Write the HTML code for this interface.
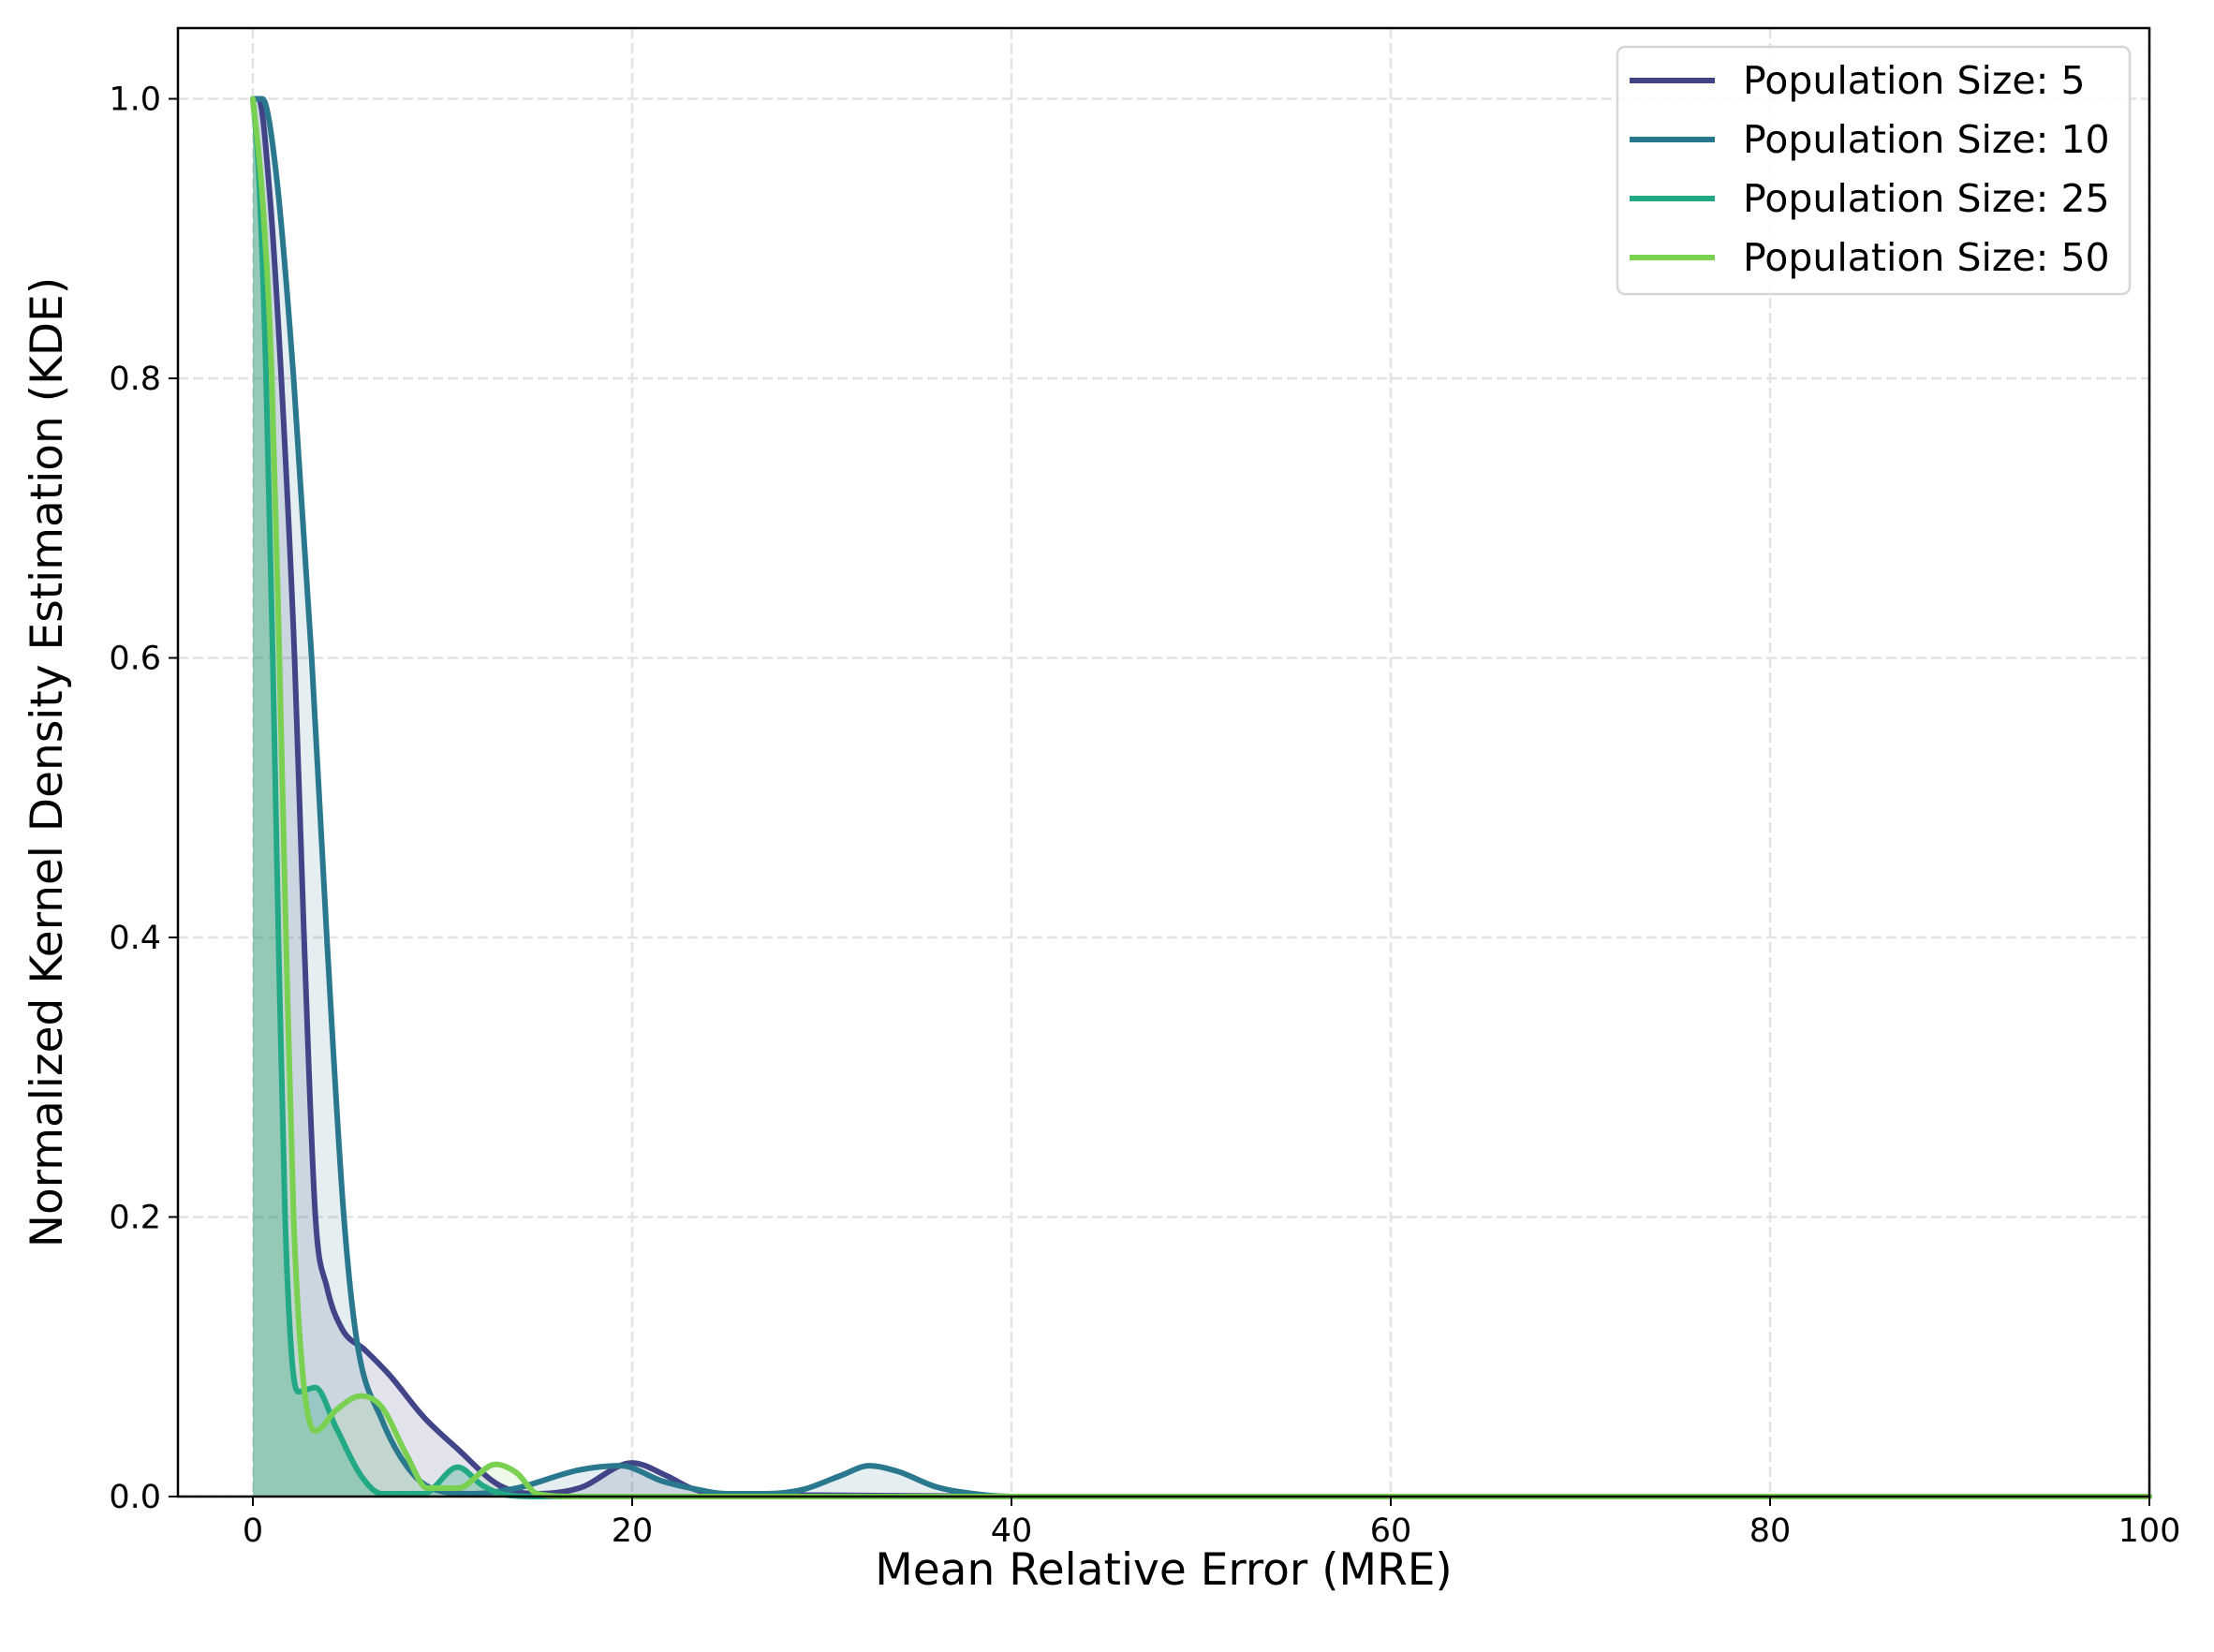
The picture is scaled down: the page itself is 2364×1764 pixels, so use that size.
<!DOCTYPE html>
<html><head><meta charset="utf-8"><style>
html,body{margin:0;padding:0;background:#fff;}
svg{display:block;font-family:"DejaVu Sans","Liberation Sans",sans-serif;}
</style></head><body>
<svg id="chart" width="2364" height="1764" viewBox="0 0 2364 1764">
<rect width="2364" height="1764" fill="#fff"/>
<g id="grid"></g><g id="fills"></g><g id="lines"></g><g id="axes"></g><g id="legend"></g>
</svg>
<script>
const seriesNames = ["Population Size: 5","Population Size: 10","Population Size: 25","Population Size: 50"];
const seriesColors = ["#414487","#2a788e","#22a884","#7ad151"];
const xs5  = [0,0.3,0.9,1.5,2.2,2.7,3.3,3.9,4.7,5.9,7.2,9.0,10.8,13,15,17.2,20,21.8,23.1,25,30,40,100];
const ys5  = [1.0,1.0,0.93,0.8,0.6,0.4,0.2,0.15,0.12,0.105,0.087,0.057,0.034,0.008,0.002,0.006,0.024,0.015,0.006,0.001,0.001,0,0];
const xs10 = [0,0.5,1.2,2.15,3.1,3.9,4.8,5.5,6.8,8.1,9.4,11.5,13.9,17.2,19.4,21.6,23.1,25,27,29,31,32.5,34,36,38,40,100];
const ys10 = [1.0,1.0,0.95,0.8,0.6,0.4,0.2,0.11,0.055,0.022,0.006,0.002,0.006,0.019,0.022,0.011,0.006,0.002,0.002,0.005,0.015,0.022,0.018,0.007,0.002,0,0];
const xs25 = [0,0.3,0.7,1.05,1.35,1.7,2.05,2.4,3.3,4.4,5.7,6.8,9,10.8,12.1,13.4,15,100];
const ys25 = [1.0,0.95,0.8,0.6,0.4,0.2,0.1,0.075,0.078,0.049,0.015,0.002,0.002,0.021,0.008,0.001,0,0];
const xs50 = [0,0.5,1.0,1.4,1.75,2.15,2.65,3.3,4.4,5.7,6.8,8.1,9.2,10.8,12.8,13.9,15,17,100];
const ys50 = [1.0,0.93,0.8,0.6,0.4,0.2,0.085,0.047,0.062,0.072,0.064,0.03,0.006,0.006,0.023,0.017,0.002,0,0];
const xTicks = [0,20,40,60,80,100];
const yTicks = [0,0.2,0.4,0.6,0.8,1.0];
const yTickLabels = ["0.0","0.2","0.4","0.6","0.8","1.0"];

const L=190,R=2295,T=30,B=1598, XMIN=-3.95,XMAX=100,YMIN=0,YMAX=1.0506;
const sx=v=>L+(v-XMIN)/(XMAX-XMIN)*(R-L);
const sy=v=>B-(v-YMIN)/(YMAX-YMIN)*(B-T);
const NS="http://www.w3.org/2000/svg";
function mk(tag,attrs,parent){const e=document.createElementNS(NS,tag);for(const k in attrs)e.setAttribute(k,attrs[k]);parent.appendChild(e);return e;}
function smoothPath(xa,ya){
  const n=xa.length, d=[], m=new Array(n);
  for(let i=0;i<n-1;i++) d.push((ya[i+1]-ya[i])/(xa[i+1]-xa[i]));
  m[0]=d[0]; m[n-1]=d[n-2];
  for(let i=1;i<n-1;i++) m[i]=(d[i-1]*d[i]<=0)?0:(d[i-1]+d[i])/2;
  for(let i=0;i<n-1;i++){
    if(d[i]===0){m[i]=0;m[i+1]=0;continue;}
    const a=m[i]/d[i],b=m[i+1]/d[i],s=a*a+b*b;
    if(s>9){const t=3/Math.sqrt(s);m[i]=t*a*d[i];m[i+1]=t*b*d[i];}
  }
  let p=`M${sx(xa[0])},${sy(ya[0])}`;
  for(let i=0;i<n-1;i++){
    const h=xa[i+1]-xa[i];
    p+=` C${sx(xa[i]+h/3)},${sy(ya[i]+m[i]*h/3)} ${sx(xa[i+1]-h/3)},${sy(ya[i+1]-m[i+1]*h/3)} ${sx(xa[i+1])},${sy(ya[i+1])}`;
  }
  return p;
}
const grid=document.getElementById('grid'),fills=document.getElementById('fills'),lines=document.getElementById('lines'),axes=document.getElementById('axes'),legend=document.getElementById('legend');
xTicks.forEach(t=>{
  const g=mk('line',{x1:sx(t),x2:sx(t),y1:T,y2:B,stroke:'#e3e3e3','stroke-width':2.5,'stroke-dasharray':'11,5'},grid);
  
  
});
yTicks.forEach(t=>{
  const g=mk('line',{x1:L,x2:R,y1:sy(t),y2:sy(t),stroke:'#e3e3e3','stroke-width':2.5,'stroke-dasharray':'11,5'},grid);
  
  
});
const data=[[xs5,ys5],[xs10,ys10],[xs25,ys25],[xs50,ys50]];
const fillOp=[0.15,0.12,0.3,0.12];
data.forEach((s,i)=>{
  const d=smoothPath(s[0],s[1]);
  const f=mk('path',{d:d+` L${sx(s[0][s[0].length-1])},${B} L${sx(s[0][0])},${B} Z`,fill:seriesColors[i],'fill-opacity':fillOp[i],stroke:'none'},fills);
  
  
  const l=mk('path',{d:d,fill:'none',stroke:seriesColors[i],'stroke-width':6,'stroke-linejoin':'round','stroke-linecap':'round'},lines);
  
  
});
const frame=mk('rect',{x:L,y:T,width:R-L,height:B-T,fill:'none',stroke:'#000','stroke-width':2.5},axes);


xTicks.forEach(t=>{
  mk('line',{x1:sx(t),x2:sx(t),y1:B,y2:B+10,stroke:'#000','stroke-width':2},axes);
  const tx=mk('text',{x:sx(t),y:B+48,'text-anchor':'middle','font-size':35,fill:'#000'},axes);
  tx.textContent=t;
  
  
});
yTicks.forEach((t,i)=>{
  mk('line',{x1:L-10,x2:L,y1:sy(t),y2:sy(t),stroke:'#000','stroke-width':2},axes);
  const tx=mk('text',{x:L-18,y:sy(t)+12,'text-anchor':'end','font-size':35,fill:'#000'},axes);
  tx.textContent=yTickLabels[i];
  
  
});
const xt=mk('text',{x:(L+R)/2,y:1692,'text-anchor':'middle','font-size':47,fill:'#000'},axes);
xt.textContent='Mean Relative Error (MRE)';


const yt=mk('text',{x:0,y:0,'text-anchor':'middle','font-size':47,fill:'#000',transform:`translate(66,${(T+B)/2}) rotate(-90)`},axes);
yt.textContent='Normalized Kernel Density Estimation (KDE)';


const lb=mk('rect',{x:1727,y:50,width:547,height:264,rx:8,fill:'#fff','fill-opacity':0.85,stroke:'#d6d6d6','stroke-width':2.5},legend);


seriesNames.forEach((n,i)=>{
  const y=86+i*63;
  const ln=mk('line',{x1:1740,x2:1831,y1:y,y2:y,stroke:seriesColors[i],'stroke-width':6},legend);
  
  
  const tx=mk('text',{x:1861,y:y+14,'font-size':41,fill:'#000'},legend);
  tx.textContent=n;
  
  
});
</script>
</body></html>
